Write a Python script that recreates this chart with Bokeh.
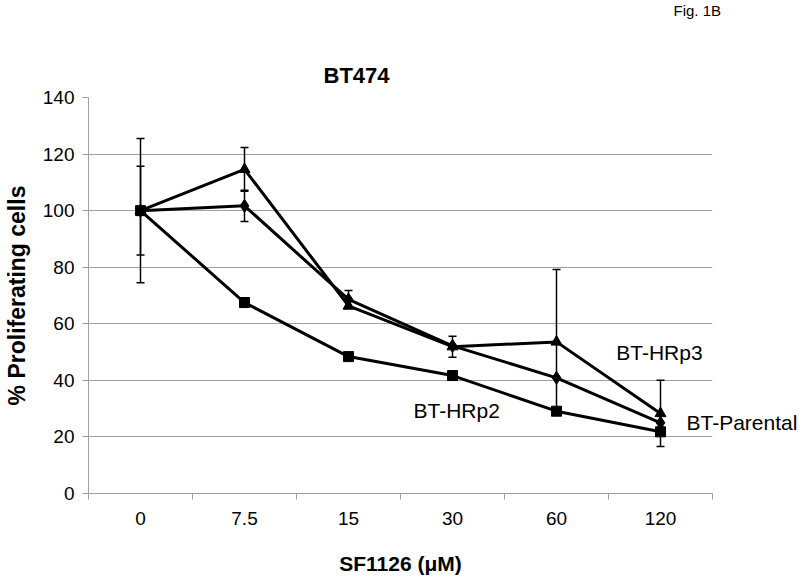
import numpy as np
from bokeh.plotting import figure
from bokeh.models import (Range1d, FixedTicker, Label, ColumnDataSource, Whisker,
                          TeeHead, Title, LinearAxis)
from bokeh.embed import file_html
from bokeh.resources import INLINE

# ---- data ----
categories = ["0", "7.5", "15", "30", "60", "120"]
hrp2 = [100, 67.5, 48.4, 41.7, 29.1, 21.8]          # squares
parental = [100, 101.7, 68.6, 52.2, 40.9, 25.0]     # diamonds
hrp3 = [100, 114.6, 66.3, 51.9, 53.6, 28.3]         # triangles
hrp2_err = [0, 1.6, 0, 0, 0, 0]
parental_err = [15.7, 5.5, 3.2, 0, 0, 0]
hrp3_err = [25.5, 7.7, 0, 3.7, 25.6, 11.7]
y_ticks = [0, 20, 40, 60, 80, 100, 120, 140]

FONT = "Liberation Sans"
GRAY = "#a0a0a0"

xpos = np.arange(len(categories)) + 0.5
bounds = list(range(len(categories) + 1))

p = figure(width=800, height=578, output_backend="svg", toolbar_location=None,
           x_range=Range1d(0, len(categories)), y_range=Range1d(0, 140),
           min_border_left=86, min_border_right=87, min_border_top=97,
           min_border_bottom=85, title=None)
p.outline_line_color = None
p.background_fill_color = "white"
p.border_fill_color = "white"

# axes
xa = p.xaxis[0]
xa.ticker = FixedTicker(ticks=list(xpos), minor_ticks=bounds)
xa.major_label_overrides = {float(v): c for v, c in zip(xpos, categories)}
xa.major_tick_out = 0
xa.major_tick_in = 0
xa.minor_tick_out = 6
xa.minor_tick_in = 0
xa.minor_tick_line_color = GRAY
xa.axis_line_color = GRAY
xa.major_label_text_font = FONT
xa.major_label_text_font_size = "19px"
xa.major_label_text_color = "black"
xa.major_label_standoff = 12
xa.axis_label = "SF1126 (μM)"
xa.axis_label_text_font = FONT
xa.axis_label_text_font_size = "21px"
xa.axis_label_text_font_style = "bold"
xa.axis_label_text_color = "black"
xa.axis_label_standoff = 24

ya = p.yaxis[0]
ya.ticker = FixedTicker(ticks=y_ticks, minor_ticks=[])
ya.major_tick_out = 6
ya.major_tick_in = 0
ya.major_tick_line_color = GRAY
ya.axis_line_color = GRAY
ya.major_label_text_font = FONT
ya.major_label_text_font_size = "19px"
ya.major_label_text_color = "black"
ya.major_label_standoff = 8
ya.axis_label = "% Proliferating cells"
ya.axis_label_text_font = FONT
ya.axis_label_text_font_size = "23px"
ya.axis_label_text_font_style = "bold"
ya.axis_label_text_color = "black"
ya.axis_label_standoff = 10

p.xgrid.visible = False
p.ygrid.grid_line_color = GRAY
p.ygrid.grid_line_width = 1

# error bars
for vals, errs in [(hrp2, hrp2_err), (parental, parental_err), (hrp3, hrp3_err)]:
    b = [xpos[i] for i in range(len(vals)) if errs[i] > 0]
    up = [vals[i] + errs[i] for i in range(len(vals)) if errs[i] > 0]
    lo = [vals[i] - errs[i] for i in range(len(vals)) if errs[i] > 0]
    src = ColumnDataSource(dict(base=b, upper=up, lower=lo))
    w = Whisker(source=src, base="base", upper="upper", lower="lower",
                line_color="black", line_width=1.5,
                upper_head=TeeHead(size=8, line_color="black", line_width=1.5),
                lower_head=TeeHead(size=8, line_color="black", line_width=1.5))
    p.add_layout(w)

# series
for vals, marker, size in [(hrp2, "square", 10), (parental, "diamond", 13), (hrp3, "triangle", 11)]:
    p.line(xpos, vals, line_width=3, line_color="black")
    p.scatter(xpos, vals, marker=marker, size=size, fill_color="black", line_color="black")

# series labels inside the frame
def lab(x, y, t):
    p.add_layout(Label(x=x, y=y, text=t, text_font=FONT, text_font_size="21px",
                       text_align="center", text_baseline="middle", text_color="black"))

lab(5.49, 49.9, "BT-HRp3")
lab(3.54, 29.4, "BT-HRp2")

# label reaching past the frame on the right: a tick-label-only axis
parental_label_y = 25.2
ra = LinearAxis(ticker=FixedTicker(ticks=[parental_label_y], minor_ticks=[]),
                major_label_overrides={parental_label_y: "BT-Parental"},
                axis_line_color=None, major_tick_line_color=None,
                minor_tick_line_color=None, major_tick_out=0, major_tick_in=0,
                major_label_standoff=-26, major_label_text_font=FONT,
                major_label_text_font_size="21px", major_label_text_color="black")
p.add_layout(ra, "right")

# titles (stacked outward from the frame): chart title, spacer, figure tag
p.add_layout(Title(text="BT474", text_font=FONT, text_font_size="22px",
                   text_font_style="bold", text_color="black", align="left",
                   offset=235, standoff=19), "above")
p.add_layout(Title(text=" ", text_font=FONT, text_font_size="1px",
                   text_color="white", align="left", standoff=28), "above")
p.add_layout(Title(text="Fig. 1B", text_font=FONT, text_font_size="15px",
                   text_font_style="normal", text_color="black", align="left",
                   vertical_align="top", offset=585, standoff=0), "above")

open("out.html", "w").write(file_html(p, INLINE))
